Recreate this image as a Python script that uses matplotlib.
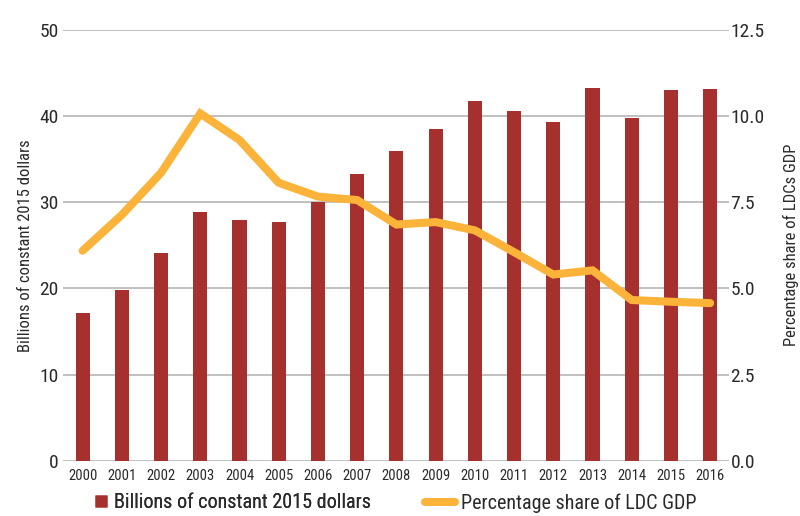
import matplotlib
matplotlib.use("Agg")
import matplotlib.pyplot as plt
from matplotlib import font_manager
from matplotlib.lines import Line2D

# pick a narrow-ish font that is actually installed
names = {f.name for f in font_manager.fontManager.ttflist}
family = "DejaVu Sans"
for cand in ["Liberation Sans Narrow", "Roboto Condensed", "Open Sans Condensed", "Roboto"]:
    if cand in names:
        family = cand
        break
plt.rcParams['font.family'] = [family, 'DejaVu Sans']

# data
years = ["2000", "2001", "2002", "2003", "2004", "2005", "2006", "2007", "2008",
         "2009", "2010", "2011", "2012", "2013", "2014", "2015", "2016"]
billions = [17.1, 19.8, 24.1, 28.9, 27.9, 27.7, 30.0, 33.3, 35.9,
            38.5, 41.7, 40.6, 39.3, 43.2, 39.8, 43.0, 43.1]
pct_share = [6.09, 7.13, 8.35, 10.07, 9.30, 8.06, 7.66, 7.56, 6.85,
             6.92, 6.68, 6.05, 5.40, 5.52, 4.66, 4.61, 4.57]

bar_color = "#A6302E"
line_color = "#FBB33A"
grid_color = "#B5B5B5"
text_color = "#2A2A2A"

fig = plt.figure(figsize=(8, 5.16), dpi=100)
ax = fig.add_axes([63 / 800, 1 - 460.7 / 516, 666 / 800, 431 / 516])
ax2 = ax.twinx()

x = range(len(years))
ax.bar(x, billions, width=0.36, color=bar_color, zorder=3)
ax2.plot(x, pct_share, color=line_color, linewidth=5.8, solid_capstyle="round",
         solid_joinstyle="miter", zorder=4)

ax.set_xlim(-0.5, 16.48)
ax.set_ylim(0, 50)
ax2.set_ylim(0, 12.5)
ax.set_yticks([0, 10, 20, 30, 40, 50])
ax2.set_yticks([0, 2.5, 5.0, 7.5, 10.0, 12.5])
ax2.set_yticklabels(["0.0", "2.5", "5.0", "7.5", "10.0", "12.5"])
ax.set_xticks(list(x))
ax.set_xticklabels(years)

ax.yaxis.grid(True, color=grid_color, linewidth=1.2, zorder=0)
ax.set_axisbelow(True)
for a in (ax, ax2):
    for s in a.spines.values():
        s.set_visible(False)
ax.tick_params(axis="y", length=0, pad=3, labelsize=14, labelcolor=text_color)
ax.tick_params(axis="x", length=0, pad=6, labelsize=10.5, labelcolor=text_color)
ax2.tick_params(axis="y", length=0, pad=1, labelsize=14, labelcolor=text_color)

ax.set_ylabel("Billions of constant 2015 dollars", fontsize=12, color=text_color, labelpad=5)
ax2.set_ylabel("Percentage share of LDCs GDP", fontsize=12, color=text_color, labelpad=13)

# two legend entries placed separately, like the original
leg_y = 1 - 503 / 516
bar_handle = Line2D([0], [0], marker="s", linestyle="none", markersize=8.5,
                    markerfacecolor=bar_color, markeredgecolor="none")
line_handle = Line2D([0], [0], color=line_color, linewidth=5.8, solid_capstyle="round")
leg1 = fig.legend([bar_handle], ["Billions of constant 2015 dollars"], loc="center left",
                  bbox_to_anchor=(95 / 800, leg_y), frameon=False, fontsize=14.5,
                  handlelength=0.6, handletextpad=0.35, borderpad=0, borderaxespad=0,
                  labelcolor=text_color)
leg2 = fig.legend([line_handle], ["Percentage share of LDC GDP"], loc="center left",
                  bbox_to_anchor=(425 / 800, leg_y), frameon=False, fontsize=14.5,
                  handlelength=1.5, handletextpad=0.3, borderpad=0, borderaxespad=0,
                  labelcolor=text_color)
fig.add_artist(leg1)

fig.savefig("out.png", dpi=100)
